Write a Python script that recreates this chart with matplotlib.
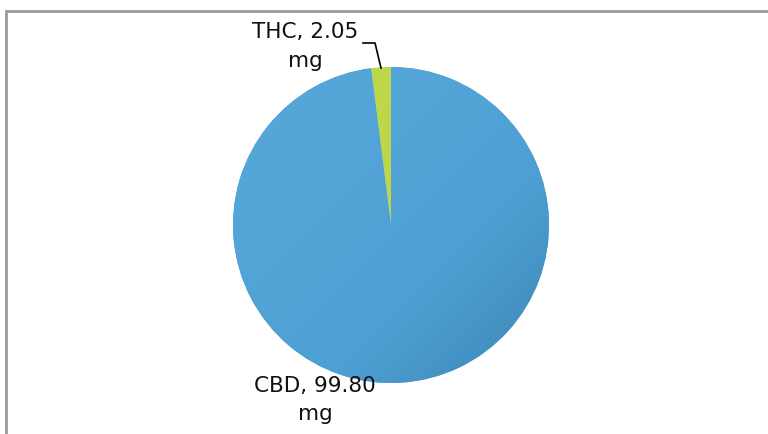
import numpy as np
import matplotlib
matplotlib.use("Agg")
from matplotlib import pyplot as plt
from matplotlib.colors import LinearSegmentedColormap

labels = ["CBD", "THC"]
values = [99.80, 2.05]
units = "mg"
colors = ["#4C9ED2", "#BED64A"]

H = 434
cx, cy, r = 391, H - 225, 158

fig = plt.figure(figsize=(7.68, 4.34), dpi=100)
ax = fig.add_axes([0, 0, 1, 1])

wedges, _ = ax.pie(values, colors=colors, startangle=90, counterclock=False,
                   center=(cx, cy), radius=r, frame=True,
                   wedgeprops=dict(linewidth=0))
ax.set_xlim(0, 768)
ax.set_ylim(0, H)
ax.set_aspect("equal")
ax.axis("off")

# soft shading on the big slice (lighter upper-left, darker lower-right)
cmap = LinearSegmentedColormap.from_list("shade", ["#56A6D9", "#4E9FD3", "#3B85B3"])
yy, xx = np.mgrid[0:1:200j, 0:1:200j]
shade = np.clip((xx + yy) / 2, 0, 1) ** 1.6
im = ax.imshow(shade, cmap=cmap, extent=(cx - r, cx + r, cy - r, cy + r),
               origin="upper", zorder=wedges[0].get_zorder() + 0.1,
               interpolation="bilinear")
im.set_clip_path(wedges[0])
ax.set_xlim(0, 768)
ax.set_ylim(0, H)

# chart frame
ax.plot([6, 6, 768], [0, H - 11, H - 11], color="#9a9a9a", lw=2,
        solid_joinstyle="miter", clip_on=False)

# data labels, one text per line
font = dict(family=["DejaVu Sans"], fontsize=15.5, color="#111111",
            ha="center", va="baseline")
ax.text(305, H - 38, "%s, %.2f" % (labels[1], values[1]), **font)
ax.text(305, H - 67, units, **font)
ax.text(315, H - 392, "%s, %.2f" % (labels[0], values[0]), **font)
ax.text(315, H - 420, units, **font)

# leader line for THC
ax.plot([363, 375, 381], [H - 43, H - 43, H - 68], color="black", lw=1.2)

fig.savefig("out.png", dpi=100)
